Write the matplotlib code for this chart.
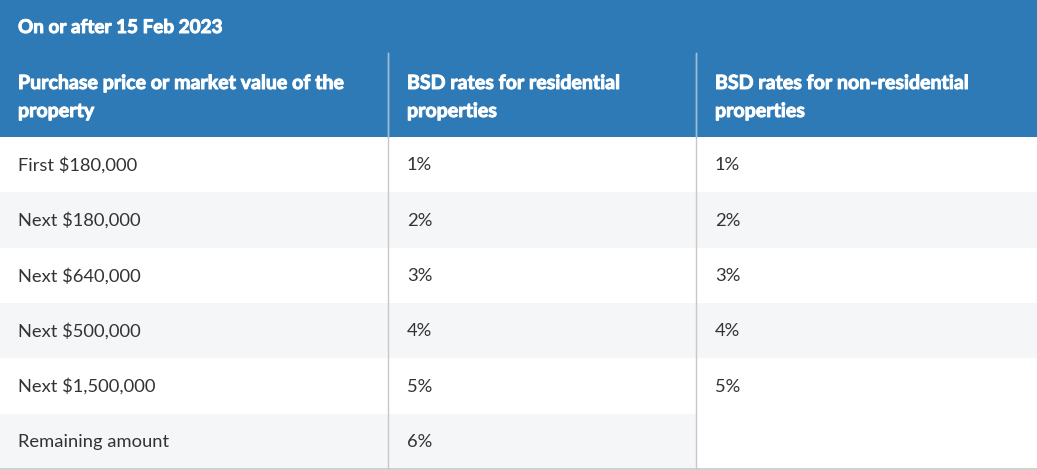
import matplotlib
matplotlib.use("Agg")
import matplotlib.pyplot as plt
from matplotlib.patches import Rectangle
import matplotlib.patheffects as pe

title = "On or after 15 Feb 2023"
headers = ["Purchase price or market value of the\nproperty",
           "BSD rates for residential\nproperties",
           "BSD rates for non-residential\nproperties"]
price_bands = ["First $180,000", "Next $180,000", "Next $640,000",
               "Next $500,000", "Next $1,500,000", "Remaining amount"]
residential_rates = ["1%", "2%", "3%", "4%", "5%", "6%"]
non_residential_rates = ["1%", "2%", "3%", "4%", "5%", ""]

W, H = 1037, 470
BLUE = "#2E7AB6"
STRIPE = "#F5F6F7"
TEXT = "#333333"
LINE = "#C8C8C8"
FONT = "Lato"

col_x = [0, 388, 696, W]
title_h = 52.5
header_bottom = 137
row_h = (469 - header_bottom) / len(price_bands)

fig = plt.figure(figsize=(W / 100, H / 100), dpi=100)
ax = fig.add_axes([0, 0, 1, 1])
ax.set_xlim(0, W)
ax.set_ylim(H, 0)
ax.axis("off")

heavy = [pe.withStroke(linewidth=0.7, foreground="white")]

# header background
ax.add_patch(Rectangle((0, 0), W, header_bottom, facecolor=BLUE, edgecolor="none"))
ax.text(18, 26, title, color="white", fontsize=13.6, fontweight="bold",
        family=FONT, va="center_baseline", ha="left", path_effects=heavy)
for i, h in enumerate(headers):
    lines = h.split("\n")
    for k, ln in enumerate(lines):
        ax.text(col_x[i] + 18 + (1 if i else 0), 81 + 28 * k, ln, color="white",
                fontsize=14.1, fontweight="bold", family=FONT,
                va="center_baseline", ha="left", path_effects=heavy)

# body rows
cols = [price_bands, residential_rates, non_residential_rates]
for r in range(len(price_bands)):
    y0 = header_bottom + r * row_h
    for c in range(3):
        shaded = (r % 2 == 1) and not (c == 2 and non_residential_rates[r] == "")
        if shaded:
            ax.add_patch(Rectangle((col_x[c], y0), col_x[c + 1] - col_x[c], row_h,
                                   facecolor=STRIPE, edgecolor="none"))
        ax.text(col_x[c] + 18 + (1 if c else 0), y0 + row_h / 2 - 1, cols[c][r],
                color=TEXT, fontsize=13.2, family=FONT, va="center_baseline", ha="left")

# vertical dividers
for x in col_x[1:3]:
    ax.plot([x, x], [title_h, 469], color=LINE, lw=1.0)
    ax.plot([x, x], [title_h, header_bottom], color="#9DBEDB", lw=1.0)
# bottom border
ax.plot([0, W], [469, 469], color=LINE, lw=1.2)

fig.savefig("out.png", dpi=100, facecolor="white")
